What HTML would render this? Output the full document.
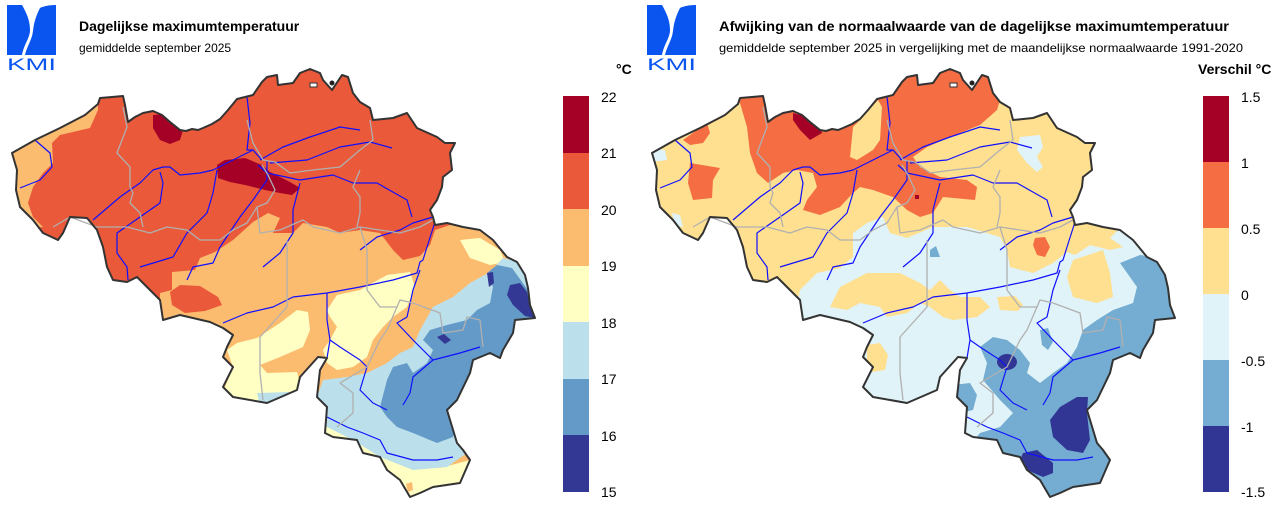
<!DOCTYPE html>
<html><head><meta charset="utf-8"><style>
html,body{margin:0;padding:0;background:#fff;}
svg{display:block;}
text{font-family:"Liberation Sans",Arial,sans-serif;}
</style></head><body>
<svg width="1280" height="507" viewBox="0 0 1280 507" xmlns="http://www.w3.org/2000/svg">
<defs>
<path id="be" d="M12,153 L35,140 L60,128 L85,115 L98,104 L100,98 L112,97 L123,96 L125,105 L128,122 L135,117 L143,113 L153,111 L162,115 L170,122 L180,130 L186,131 L192,129 L198,130 L203,128 L212,124 L220,119 L228,110 L237,99 L245,97 L253,95 L262,82 L267,77 L277,75 L278,85 L293,83 L300,73 L310,69 L320,73 L323,80 L332,90 L342,75 L348,77 L353,93 L360,102 L370,108 L373,120 L393,118 L407,113 L417,128 L437,137 L445,143 L455,143 L450,153 L452,170 L443,177 L442,187 L437,200 L430,210 L433,217 L435,225 L447,223 L463,227 L480,230 L493,240 L507,257 L517,262 L525,275 L528,288 L530,305 L535,318 L515,320 L513,333 L503,350 L500,358 L490,353 L473,360 L470,373 L457,400 L447,410 L457,443 L463,450 L470,460 L460,483 L433,487 L420,493 L410,497 L400,480 L387,470 L380,457 L363,453 L357,440 L333,437 L325,433 L327,407 L317,397 L320,370 L327,358 L318,357 L300,377 L297,390 L267,403 L233,397 L223,387 L233,367 L223,357 L227,347 L233,335 L223,328 L210,322 L180,315 L163,320 L160,300 L147,287 L137,277 L127,282 L113,280 L107,267 L103,247 L97,230 L87,218 L70,217 L63,233 L58,240 L43,233 L33,220 L20,207 L16,190 L17,170 Z"/>
<clipPath id="clipL"><use href="#be"/></clipPath>
<g id="rivers" fill="none" stroke="#1010ff" stroke-width="1.2" stroke-linejoin="round">
<polyline points="35,140 50,153 52,167 40,180 20,188"/>
<polyline points="93,220 120,197 140,183 153,170 163,167 170,167 180,175 200,173 213,170 227,163 247,153 253,150"/>
<polyline points="247,97 250,123 247,150 253,150 262,160"/>
<polyline points="128,280 127,267 117,253 117,233 140,217 160,203 163,183 160,172"/>
<polyline points="140,267 173,257 187,233 207,213 213,193 217,170"/>
<polyline points="187,280 193,267 213,263 220,247 240,217 253,200 267,180 267,160"/>
<polyline points="260,160 283,147 310,137 340,127 360,130"/>
<polyline points="270,163 307,160 340,147 370,142 392,148"/>
<polyline points="258,165 267,173 300,180 333,175 353,183 377,183 407,200 412,217"/>
<polyline points="300,183 293,210 293,233 280,253 263,267"/>
<polyline points="435,222 427,247 423,260 420,262 417,273 393,280 360,287 327,293 293,297 273,307 247,313 223,323"/>
<polyline points="360,250 377,237 400,230 413,223 433,217"/>
<polyline points="327,293 327,320 330,340 327,358"/>
<polyline points="330,340 340,347 360,360 367,367 363,380 360,390 373,403 387,410"/>
<polyline points="420,270 413,290 407,317 397,323 413,340 433,360 413,377 410,393 403,405"/>
<polyline points="433,360 460,353 480,347"/>
<polyline points="327,417 347,427 363,433 380,440 387,453 413,460 437,460 453,457"/>
</g>
<g id="prov" fill="none" stroke="#b0b0b0" stroke-width="1.3" stroke-linejoin="round">
<polyline points="123,107 127,127 117,153 130,167 130,187 133,193 130,203 140,213 143,227"/>
<polyline points="53,227 70,217 97,227 127,227 150,233 167,227 187,230 200,240 220,240 233,230 247,223 257,207 267,203 275,190 268,175 262,165"/>
<polyline points="247,120 253,143 263,160 275,162 290,173 313,170 340,167 360,150 373,140 370,120"/>
<polyline points="360,170 353,187 360,197 360,213 357,227"/>
<polyline points="257,207 260,233 280,230 303,220 313,227 340,233 360,227 380,230 400,233 420,227 433,220"/>
<polyline points="287,240 287,260 287,307 260,337 260,350 260,373 263,400"/>
<polyline points="367,290 380,307 397,307 400,300 387,330 380,340 367,367 340,383 353,393 353,413 337,427"/>
<polyline points="400,300 413,303 440,313 443,333 463,330 467,317 480,320 483,347"/>
<polyline points="360,227 367,250 367,290"/>
</g>
<g id="logo">
<path d="M7,5 L22,5 C26,12 30,20 30,30 C30,38 24,44 22,55 L7,55 Z" fill="#0a55f0"/>
<path d="M40,8 C44,6 50,5 56,5 L56,55 L25,55 C27,46 32,40 33,31 C34,21 37,14 40,8 Z" fill="#0a55f0"/>
<text x="7" y="70" font-size="17" fill="#0a55f0" textLength="49" lengthAdjust="spacingAndGlyphs">KMI</text>
</g>
</defs>

<!-- LEFT MAP -->
<g>
<g clip-path="url(#clipL)">
<rect x="0" y="50" width="560" height="460" fill="#e9593a"/>
<polygon fill="#fcbc70" points="160,340 160,293 172,290 172,272 195,270 200,258 215,252 233,240 253,222 268,213 280,218 273,233 293,233 303,223 327,227 340,233 360,230 380,233 393,250 403,260 420,256 430,245 435,230 450,225 480,230 520,250 545,300 545,330 500,380 480,420 475,510 150,510"/>
<polygon fill="#fcbc70" points="35,140 98,105 98,110 90,128 60,135 52,143 53,163 43,173 33,187 28,203 33,217 43,227 0,230 0,150"/>
<polygon fill="#e9593a" points="180,285 200,286 218,297 222,305 205,311 185,313 172,305 170,292"/>
<polygon fill="#a50026" points="153,115 165,114 175,118 183,130 180,140 170,144 160,140 153,128"/>
<polygon fill="#a50026" points="217,165 225,160 245,158 262,165 270,172 290,182 300,188 292,195 280,193 265,190 245,185 230,182 218,178"/>
<polygon fill="#ffffc3" points="327,310 337,295 360,290 387,275 410,272 415,287 407,307 393,317 383,327 373,340 367,357 353,367 337,370 327,363 323,350 330,340 337,327 330,317"/>
<polygon fill="#ffffc3" points="460,240 480,238 500,250 505,262 490,265 470,258"/>
<polygon fill="#ffffc3" points="237,343 257,338 280,323 297,310 308,312 310,330 303,347 280,357 260,365 267,373 297,372 300,383 297,392 267,405 227,400 225,387 233,367 227,350"/>
<polygon fill="#ffffc3" points="310,405 340,420 370,440 400,458 440,468 470,460 480,510 380,510 310,460"/>
<polygon fill="#bbe0eb" points="257,393 290,392 295,402 260,405"/>
<polygon fill="#bbe0eb" points="317,397 323,380 347,377 367,373 387,363 400,353 413,347 420,330 433,307 453,297 470,283 490,272 503,258 520,262 540,300 540,325 513,333 500,357 480,360 470,373 463,393 457,407 467,453 447,467 413,470 380,457 353,440 327,427 323,413"/>
<polygon fill="#639ac8" points="380,407 387,380 393,367 407,363 413,373 427,363 433,350 423,340 430,330 447,325 467,320 477,310 490,303 493,287 487,273 497,265 512,268 530,293 540,320 513,333 500,357 480,360 470,373 463,393 457,413 453,437 437,443 413,433 397,427 387,417"/>
<polygon fill="#323893" points="510,285 520,283 527,292 530,305 536,318 525,316 513,305 507,295"/>
<polygon fill="#323893" points="487,273 493,272 494,283 489,287"/>
<polygon fill="#323893" points="437,337 444,334 451,340 445,344"/>
<polygon fill="#fcbc70" points="406,484 412,482 413,490 408,492"/>
</g>
<use href="#rivers"/>
<use href="#prov"/>
<use href="#be" fill="none" stroke="#333" stroke-width="2" stroke-linejoin="round"/>
<rect x="310" y="83" width="7" height="4" fill="#fff" stroke="#333" stroke-width="1"/>
<circle cx="332" cy="83" r="2.5" fill="#222"/>
</g>

<!-- RIGHT MAP -->
<g transform="translate(640,0)">
<g clip-path="url(#clipL)">
<rect x="0" y="50" width="560" height="460" fill="#e0f3f8"/>
<polygon fill="#fee090" points="-10,50 480,50 480,228 470,238 483,247 470,250 450,245 435,255 427,252 413,263 393,273 370,267 367,250 360,237 327,227 293,227 267,238 250,233 243,217 227,223 213,233 213,257 200,268 177,273 160,290 150,340 -10,340"/>
<polygon fill="#f46d43" points="95,90 365,60 360,100 357,110 340,125 310,137 287,147 273,157 280,167 300,177 327,180 337,187 335,200 303,197 293,213 280,217 267,210 253,197 233,190 220,187 213,193 200,207 180,215 163,210 167,200 177,187 173,173 157,170 143,173 128,183 117,173 110,153 107,127 100,103"/>
<polygon fill="#fee090" points="213,127 220,120 238,100 242,107 240,140 233,150 217,160 210,157 212,137"/>
<polygon fill="#f46d43" points="43,140 67,123 70,133 63,143 50,145"/>
<polygon fill="#f46d43" points="50,163 80,168 73,180 72,198 53,200 48,183"/>
<polygon fill="#a50026" points="153,113 177,120 182,133 170,140 160,130 153,120"/>
<polygon fill="#a50026" points="275,195 279,195 279,199 275,199"/>
<polygon fill="#e0f3f8" points="5,148 25,150 27,160 12,162"/>
<polygon fill="#e0f3f8" points="32,213 40,215 43,227 35,226"/>
<polygon fill="#e0f3f8" points="380,137 400,135 403,147 397,157 403,167 397,172 387,163 377,150"/>
<polygon fill="#fee090" points="190,307 200,287 227,273 260,273 280,283 290,290 300,280 310,290 320,297 340,297 350,307 337,317 313,320 303,317 290,307 280,303 267,313 247,317 240,307 220,303 207,310"/>
<polygon fill="#fee090" points="357,297 375,296 383,305 378,311 360,310"/>
<polygon fill="#fee090" points="433,260 463,250 470,273 473,297 457,303 433,297 427,277"/>
<polygon fill="#fee090" points="227,345 240,343 248,355 245,370 232,372 227,360"/>
<polygon fill="#f46d43" points="395,238 405,237 410,247 405,257 397,255 393,245"/>
<polygon fill="#74add1" points="290,250 296,246 300,257 290,257"/>
<polygon fill="#74add1" points="340,433 360,427 373,413 360,400 343,380 347,363 340,347 353,337 367,340 380,350 390,363 387,373 400,383 413,373 427,363 437,347 443,330 457,320 473,310 493,303 497,287 480,263 500,255 540,260 560,330 500,520 340,520 330,445"/>
<polygon fill="#74add1" points="313,385 330,383 337,395 333,410 320,413 313,400"/>
<polygon fill="#74add1" points="400,330 408,328 413,342 408,350 402,345"/>
<ellipse cx="367" cy="362" rx="10" ry="8" fill="#313695"/>
<polygon fill="#313695" points="437,397 448,397 447,413 450,440 443,453 427,450 413,437 410,420 420,407"/>
<polygon fill="#313695" points="383,453 397,450 413,463 413,473 403,477 387,470 380,460"/>
</g>
<use href="#rivers"/>
<use href="#prov"/>
<use href="#be" fill="none" stroke="#333" stroke-width="2" stroke-linejoin="round"/>
<rect x="310" y="83" width="7" height="4" fill="#fff" stroke="#333" stroke-width="1"/>
<circle cx="332" cy="83" r="2.5" fill="#222"/>
</g>

<!-- Logos & titles -->
<use href="#logo"/>
<use href="#logo" transform="translate(640,0)"/>
<text x="79" y="31" font-size="14" font-weight="bold" fill="#000">Dagelijkse maximumtemperatuur</text>
<text x="79" y="52" font-size="12" fill="#000">gemiddelde september 2025</text>
<text x="719" y="31" font-size="14" font-weight="bold" fill="#000" textLength="510" lengthAdjust="spacingAndGlyphs">Afwijking van de normaalwaarde van de dagelijkse maximumtemperatuur</text>
<text x="719" y="52" font-size="12" fill="#000" textLength="524" lengthAdjust="spacingAndGlyphs">gemiddelde september 2025 in vergelijking met de maandelijkse normaalwaarde 1991-2020</text>

<!-- Left legend -->
<text x="616" y="74" font-size="14" font-weight="bold" fill="#000">°C</text>
<rect x="563" y="96" width="26" height="57" fill="#a50026"/>
<rect x="563" y="153" width="26" height="56" fill="#e9593a"/>
<rect x="563" y="209" width="26" height="57" fill="#fcbc70"/>
<rect x="563" y="266" width="26" height="56" fill="#ffffc3"/>
<rect x="563" y="322" width="26" height="57" fill="#bbe0eb"/>
<rect x="563" y="379" width="26" height="56" fill="#639ac8"/>
<rect x="563" y="435" width="26" height="57" fill="#323893"/>
<g font-size="14" fill="#000">
<text x="601" y="102">22</text>
<text x="601" y="158">21</text>
<text x="601" y="215">20</text>
<text x="601" y="271">19</text>
<text x="601" y="328">18</text>
<text x="601" y="384">17</text>
<text x="601" y="441">16</text>
<text x="601" y="497">15</text>
</g>

<!-- Right legend -->
<text x="1198" y="74" font-size="14" font-weight="bold" fill="#000">Verschil °C</text>
<rect x="1203" y="96" width="26" height="66" fill="#a50026"/>
<rect x="1203" y="162" width="26" height="66" fill="#f46d43"/>
<rect x="1203" y="228" width="26" height="66" fill="#fee090"/>
<rect x="1203" y="294" width="26" height="66" fill="#e0f3f8"/>
<rect x="1203" y="360" width="26" height="66" fill="#74add1"/>
<rect x="1203" y="426" width="26" height="66" fill="#313695"/>
<g font-size="14" fill="#000">
<text x="1241" y="102">1.5</text>
<text x="1241" y="168">1</text>
<text x="1241" y="234">0.5</text>
<text x="1241" y="300">0</text>
<text x="1241" y="366">-0.5</text>
<text x="1241" y="432">-1</text>
<text x="1241" y="497">-1.5</text>
</g>
</svg>
</body></html>
